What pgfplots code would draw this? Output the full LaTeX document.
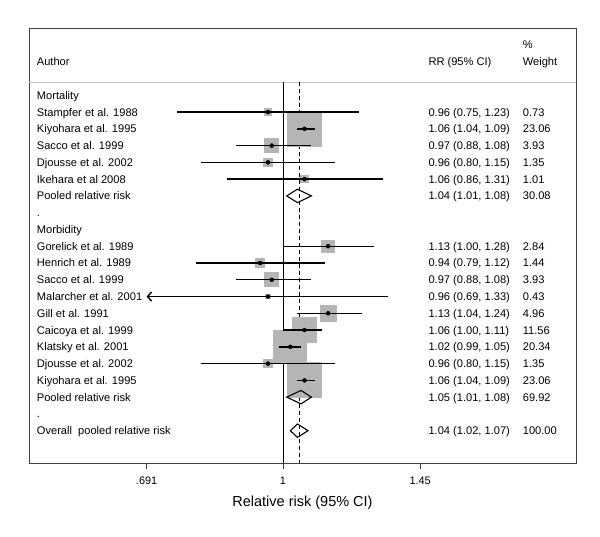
\documentclass[border=0pt]{standalone}
\usepackage{pgfplots}
\pgfplotsset{compat=1.18}
\usepackage{fontspec}
\setmainfont{Liberation Sans}
\usetikzlibrary{arrows.meta}
\definecolor{boxgray}{gray}{0.71}
\definecolor{hdrgray}{gray}{0.78}
\definecolor{framegray}{gray}{0.25}
\newcommand{\rowtxt}[4]{%
  \node[txt] at (axis cs:0.513,#1) {#2};
  \node[txt] at (axis cs:1.48257,#1) {#3};
  \node[txt] at (axis cs:1.91474,#1) {#4};
}
\begin{document}
\begin{tikzpicture}[txt/.style={anchor=base west, inner sep=0pt, font=\fontsize{11.1bp}{13bp}\selectfont, yshift=-4bp},
  tl/.style={anchor=base, inner sep=0pt, font=\fontsize{10.9bp}{12bp}\selectfont}]
\useasboundingbox (-29bp,-74bp) rectangle (571bp,463bp);
\begin{axis}[
  scale only axis, width=547bp, height=435bp,
  xmode=log, xmin=0.50242, xmax=2.2122,
  ymin=-21.926, ymax=4.013,
  axis line style={framegray, line width=0.9bp},
  xtick={0.691,1,1.45},
  xtick pos=left, xmajorticks=false,
  ytick=\empty,
  xlabel={Relative risk (95\% CI)},
  xlabel style={font=\fontsize{14.5bp}{16bp}\selectfont, at={(axis description cs:0.5,0)}, anchor=center, yshift=-40bp},
  clip=false, clip marker paths=true,
]
% header separator
\addplot[hdrgray, line width=0.9bp] coordinates {(0.50242,0.793) (2.2122,0.793)};
% reference lines
\addplot[black, line width=0.9bp] coordinates {(1,0.793) (1,-21.926)};
\addplot[black, line width=0.9bp, dash pattern=on 4bp off 3bp] coordinates {(1.0443,0.793) (1.0443,-21.926)};
% weight boxes
\addplot[scatter, only marks, mark=square*,
  scatter/use mapped color={draw=boxgray, fill=boxgray, line width=0pt},
  visualization depends on={3.65*sqrt(\thisrow{w}) \as \ms},
  scatter/@pre marker code/.append style={/tikz/mark size=\ms}]
  table[x=rr, y=row] {
rr   row w
0.96 -1  0.73
1.06 -2  23.06
0.97 -3  3.93
0.96 -4  1.35
1.06 -5  1.01
1.13 -9  2.84
0.94 -10 1.44
0.97 -11 3.93
0.96 -12 0.43
1.13 -13 4.96
1.06 -14 11.56
1.02 -15 20.34
0.96 -16 1.35
1.06 -17 23.06
};
% confidence intervals
\addplot[black, line width=1.4bp] coordinates {(0.75,-1) (1.23,-1)};
\addplot[black, line width=1.4bp] coordinates {(1.04,-2) (1.09,-2)};
\addplot[black, line width=1.4bp] coordinates {(0.88,-3) (1.08,-3)};
\addplot[black, line width=1.4bp] coordinates {(0.80,-4) (1.15,-4)};
\addplot[black, line width=1.4bp] coordinates {(0.86,-5) (1.31,-5)};
\addplot[black, line width=1.4bp] coordinates {(1.00,-9) (1.28,-9)};
\addplot[black, line width=1.4bp] coordinates {(0.79,-10) (1.12,-10)};
\addplot[black, line width=1.4bp] coordinates {(0.88,-11) (1.08,-11)};
\addplot[black, line width=1.4bp, {Straight Barb[length=4bp,width=9bp,line width=1.4bp]}-] coordinates {(0.691,-12) (1.33,-12)};
\addplot[black, line width=1.4bp] coordinates {(1.04,-13) (1.24,-13)};
\addplot[black, line width=1.4bp] coordinates {(1.00,-14) (1.11,-14)};
\addplot[black, line width=1.4bp] coordinates {(0.99,-15) (1.05,-15)};
\addplot[black, line width=1.4bp] coordinates {(0.80,-16) (1.15,-16)};
\addplot[black, line width=1.4bp] coordinates {(1.04,-17) (1.09,-17)};
% point estimates
\addplot[only marks, mark=*, mark size=2bp, black] table[x=rr, y=row] {
rr   row
0.96 -1
1.06 -2
0.97 -3
0.96 -4
1.06 -5
1.13 -9
0.94 -10
0.97 -11
0.96 -12
1.13 -13
1.06 -14
1.02 -15
0.96 -16
1.06 -17
};
% pooled diamonds
\addplot[black, line width=1.1bp, line join=miter] coordinates {(1.01,-6) (1.04,-5.6) (1.08,-6) (1.04,-6.4) (1.01,-6) (1.04,-5.6)};
\addplot[black, line width=1.1bp, line join=miter] coordinates {(1.01,-18) (1.05,-17.6) (1.08,-18) (1.05,-18.4) (1.01,-18) (1.05,-17.6)};
\addplot[black, line width=1.1bp, line join=miter] coordinates {(1.02,-20) (1.04,-19.6) (1.07,-20) (1.04,-20.4) (1.02,-20) (1.04,-19.6)};
% tick marks and labels
\draw[framegray, line width=1bp] (axis cs:0.691,-21.926) -- (axis cs:0.691,-22.31);
\draw[framegray, line width=1bp] (axis cs:1,-21.926) -- (axis cs:1,-22.31);
\draw[framegray, line width=1bp] (axis cs:1.45,-21.926) -- (axis cs:1.45,-22.31);
\node[tl] at (axis cs:0.691,-23.214) {.691};
\node[tl] at (axis cs:1,-23.214) {1};
\node[tl] at (axis cs:1.45,-23.214) {1.45};
% text
\node[txt] at (axis cs:1.91474,3) {\%};
\rowtxt{2}{Author}{RR (95\% CI)}{Weight}
\rowtxt{0}{Mortality}{}{}
\rowtxt{-1}{Stampfer et al. 1988}{0.96 (0.75, 1.23)}{0.73}
\rowtxt{-2}{Kiyohara et al. 1995}{1.06 (1.04, 1.09)}{23.06}
\rowtxt{-3}{Sacco et al. 1999}{0.97 (0.88, 1.08)}{3.93}
\rowtxt{-4}{Djousse et al. 2002}{0.96 (0.80, 1.15)}{1.35}
\rowtxt{-5}{Ikehara et al 2008}{1.06 (0.86, 1.31)}{1.01}
\rowtxt{-6}{Pooled relative risk}{1.04 (1.01, 1.08)}{30.08}
\rowtxt{-7}{.}{}{}
\rowtxt{-8}{Morbidity}{}{}
\rowtxt{-9}{Gorelick et al. 1989}{1.13 (1.00, 1.28)}{2.84}
\rowtxt{-10}{Henrich et al. 1989}{0.94 (0.79, 1.12)}{1.44}
\rowtxt{-11}{Sacco et al. 1999}{0.97 (0.88, 1.08)}{3.93}
\rowtxt{-12}{Malarcher et al. 2001}{0.96 (0.69, 1.33)}{0.43}
\rowtxt{-13}{Gill et al. 1991}{1.13 (1.04, 1.24)}{4.96}
\rowtxt{-14}{Caicoya et al. 1999}{1.06 (1.00, 1.11)}{11.56}
\rowtxt{-15}{Klatsky et al. 2001}{1.02 (0.99, 1.05)}{20.34}
\rowtxt{-16}{Djousse et al. 2002}{0.96 (0.80, 1.15)}{1.35}
\rowtxt{-17}{Kiyohara et al. 1995}{1.06 (1.04, 1.09)}{23.06}
\rowtxt{-18}{Pooled relative risk}{1.05 (1.01, 1.08)}{69.92}
\rowtxt{-19}{.}{}{}
\rowtxt{-20}{Overall\ \ pooled relative risk}{1.04 (1.02, 1.07)}{100.00}
\end{axis}
\end{tikzpicture}
\end{document}
